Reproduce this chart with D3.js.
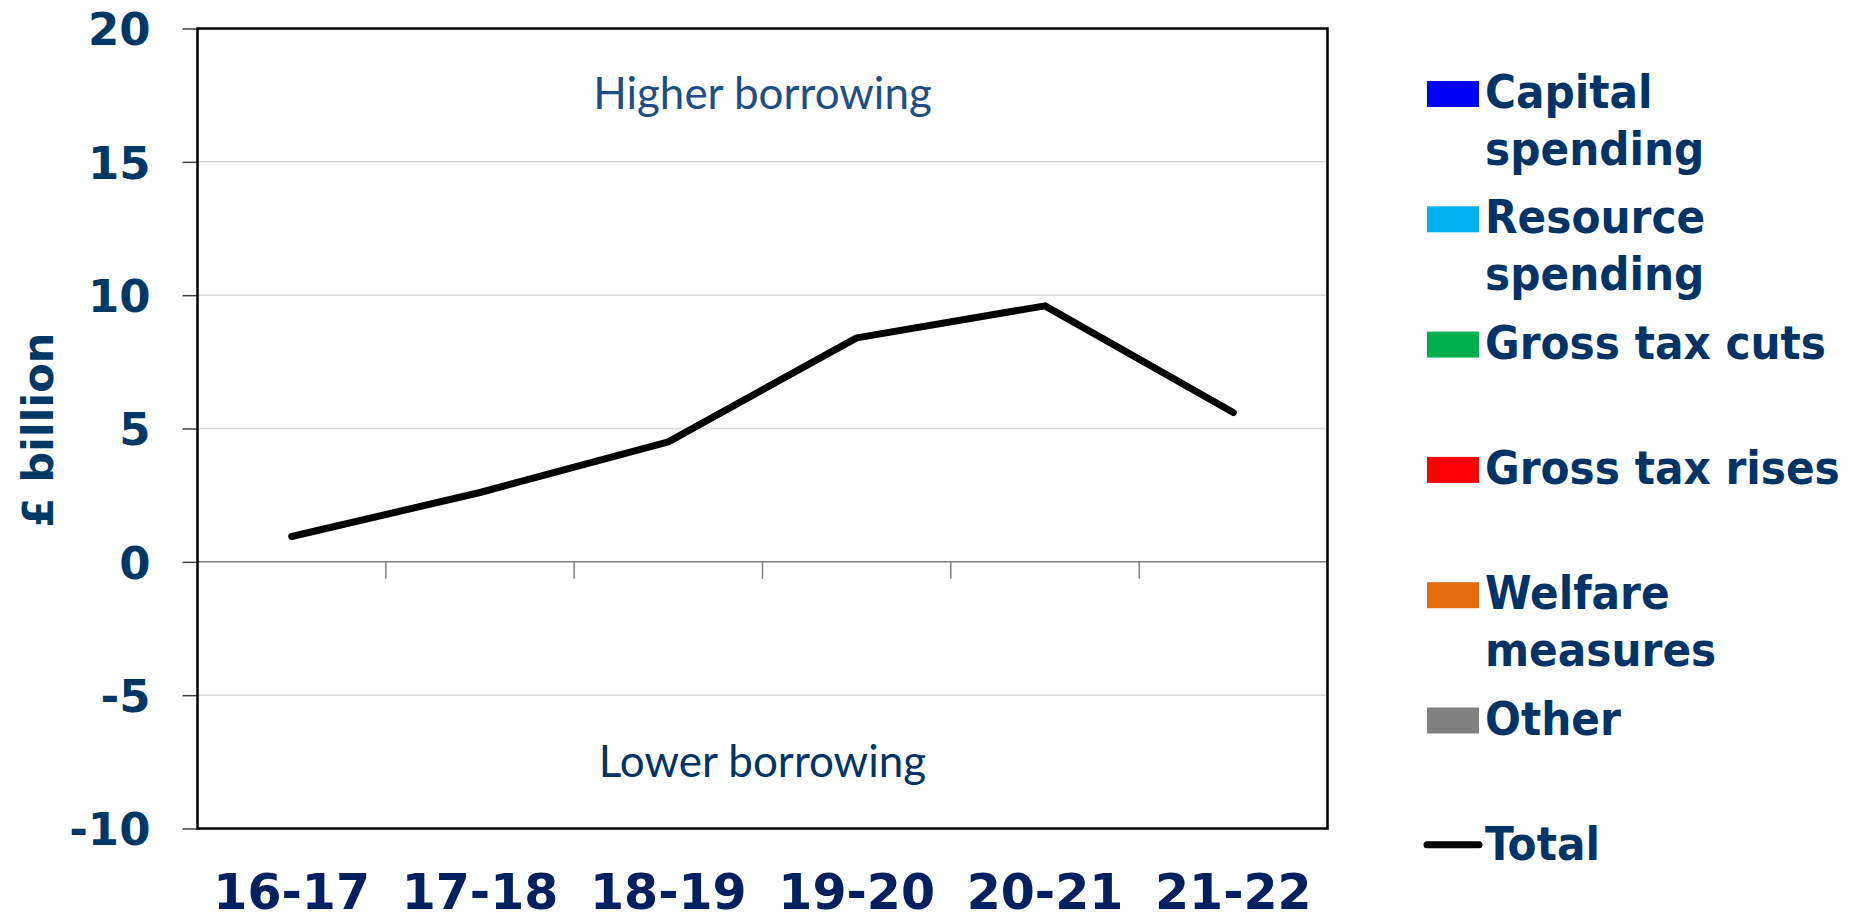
<!DOCTYPE html>
<html>
<head>
<meta charset="utf-8">
<script src="https://cdn.jsdelivr.net/npm/d3@7"></script>
<style>
  html, body { margin: 0; padding: 0; background: #ffffff; }
  svg { display: block; }
</style>
</head>
<body>
<svg id="chart" width="1852" height="920"></svg>
<script>
// Fiscal years on the category axis
const years = ["16-17", "17-18", "18-19", "19-20", "20-21", "21-22"];
// Net effect of measures on borrowing, £ billion
const totalValues = [0.95, 2.6, 4.5, 8.4, 9.6, 5.6];
// Value axis ticks
const yTicks = [-10, -5, 0, 5, 10, 15, 20];
// Legend entries (component series) and their colours
const seriesNames = [["Capital", "spending"], ["Resource", "spending"], ["Gross tax cuts"],
                     ["Gross tax rises"], ["Welfare", "measures"], ["Other"]];
const seriesColors = ["#0000FF", "#00B0F0", "#00B050", "#FF0000", "#E46C0A", "#808080"];
const totalName = "Total";

const svg = d3.select("#chart");
const plot = { left: 197.5, right: 1327.5, top: 28.5, bottom: 828.5 };

const x = d3.scaleBand().domain(years).range([plot.left, plot.right]).padding(0);
const y = d3.scaleLinear().domain([-10, 20]).range([plot.bottom, plot.top]);

const boldFont = "'DejaVu Sans', sans-serif";
const labelFont = "Lato, 'Open Sans', sans-serif";

// Horizontal gridlines
svg.append("g")
  .selectAll("line")
  .data(yTicks.filter(d => d !== 0 && d !== 20 && d !== -10))
  .join("line")
  .attr("x1", plot.left).attr("x2", plot.right)
  .attr("y1", d => y(d)).attr("y2", d => y(d))
  .attr("stroke", "#D9D9D9").attr("stroke-width", 1.5);

// Value axis with outer tick marks (plain hyphen for negatives)
const yAxis = svg.append("g")
  .attr("transform", `translate(${plot.left},0)`)
  .call(d3.axisLeft(y).tickValues(yTicks).tickSize(15).tickPadding(32).tickFormat(d => String(d)));
yAxis.select(".domain").remove();
yAxis.selectAll(".tick line").attr("stroke", "#404040").attr("stroke-width", 1.5);
yAxis.selectAll(".tick text")
  .attr("fill", "#003865")
  .style("font-family", boldFont)
  .style("font-weight", "bold")
  .style("font-size", "45px")
  .attr("dy", "0.36em");

// Zero line with category separators below it
svg.append("line")
  .attr("x1", plot.left).attr("x2", plot.right)
  .attr("y1", y(0)).attr("y2", y(0))
  .attr("stroke", "#808080").attr("stroke-width", 1.5);

svg.append("g")
  .selectAll("line")
  .data(years.slice(1))
  .join("line")
  .attr("x1", d => x(d)).attr("x2", d => x(d))
  .attr("y1", y(0)).attr("y2", y(0) + 17)
  .attr("stroke", "#808080").attr("stroke-width", 1.5);

// Category labels
const xAxis = svg.append("g")
  .attr("transform", `translate(0,${plot.bottom})`)
  .call(d3.axisBottom(x).tickSize(0).tickPadding(0));
xAxis.select(".domain").remove();
xAxis.selectAll(".tick text")
  .attr("y", 80)
  .attr("dy", 0)
  .attr("fill", "#002060")
  .style("font-family", boldFont)
  .style("font-weight", "bold")
  .style("font-size", "49px");

// Plot frame
svg.append("rect")
  .attr("x", plot.left).attr("y", plot.top)
  .attr("width", plot.right - plot.left).attr("height", plot.bottom - plot.top)
  .attr("fill", "none").attr("stroke", "#000").attr("stroke-width", 2.5);

// Region annotations
const mid = (plot.left + plot.right) / 2;
svg.append("text")
  .attr("x", mid).attr("y", 109)
  .attr("text-anchor", "middle")
  .attr("fill", "#1F4E82")
  .style("font-family", labelFont)
  .style("font-size", "44px")
  .text("Higher borrowing");
svg.append("text")
  .attr("x", mid).attr("y", 777)
  .attr("text-anchor", "middle")
  .attr("fill", "#003366")
  .style("font-family", labelFont)
  .style("font-size", "44px")
  .text("Lower borrowing");

// Total line
const line = d3.line()
  .x((d, i) => x(years[i]) + x.bandwidth() / 2)
  .y(d => y(d));
svg.append("path")
  .datum(totalValues)
  .attr("d", line)
  .attr("fill", "none")
  .attr("stroke", "#000")
  .attr("stroke-width", 7)
  .attr("stroke-linecap", "round")
  .attr("stroke-linejoin", "round");

// Axis title
svg.append("text")
  .attr("transform", "translate(53,430) rotate(-90)")
  .attr("text-anchor", "middle")
  .attr("fill", "#003865")
  .style("font-family", boldFont)
  .style("font-weight", "bold")
  .style("font-size", "43px")
  .text("£ billion");

// Legend
const legendX = 1427, legendTop = 108, legendStep = 125.3, lineH = 57;
const legendTextStyle = sel => sel
  .attr("fill", "#003366")
  .style("font-family", boldFont)
  .style("font-weight", "bold")
  .style("font-size", "47px")
  .style("font-stretch", "condensed");

const items = svg.append("g").selectAll("g")
  .data(seriesNames)
  .join("g")
  .attr("transform", (d, i) => `translate(${legendX},${legendTop + i * legendStep})`);
items.append("rect")
  .attr("x", 0).attr("y", -27).attr("width", 52).attr("height", 26)
  .attr("fill", (d, i) => seriesColors[i]);
items.each(function(lines) {
  const t = d3.select(this).append("text").attr("x", 58).call(legendTextStyle);
  lines.forEach((ln, j) => t.append("tspan").attr("x", 58).attr("y", j * lineH).text(ln));
});

const totalItem = svg.append("g")
  .attr("transform", `translate(${legendX},${legendTop + seriesNames.length * legendStep})`);
totalItem.append("line")
  .attr("x1", 0).attr("x2", 52).attr("y1", -15).attr("y2", -15)
  .attr("stroke", "#000").attr("stroke-width", 7).attr("stroke-linecap", "round");
totalItem.append("text").attr("x", 58).call(legendTextStyle).text(totalName);
</script>
</body>
</html>
